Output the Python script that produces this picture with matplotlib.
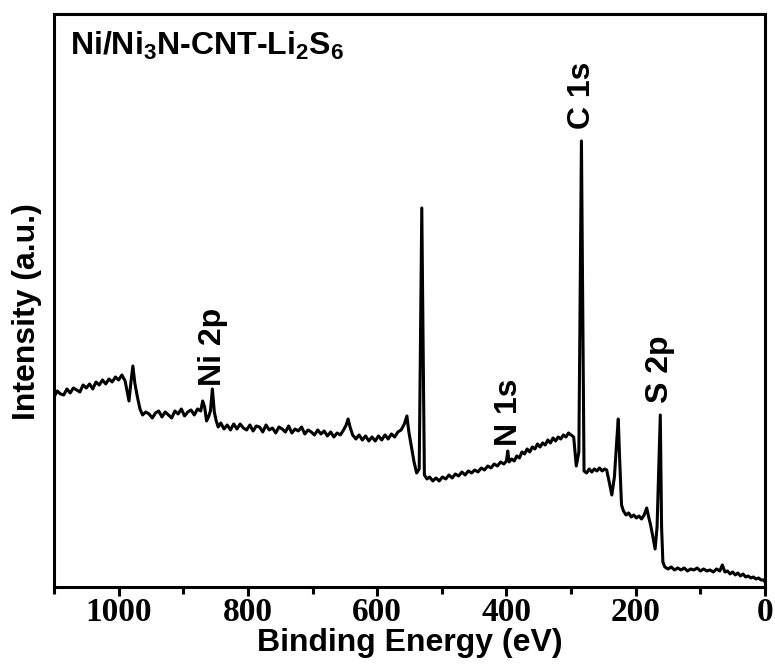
import matplotlib
matplotlib.use("Agg")
import matplotlib.pyplot as plt
from matplotlib.ticker import MultipleLocator

plt.rcParams['font.family'] = ['Liberation Sans', 'DejaVu Sans']
plt.rcParams['mathtext.fontset'] = 'custom'
plt.rcParams['mathtext.bf'] = 'Liberation Sans:bold'
plt.rcParams['mathtext.rm'] = 'Liberation Sans:bold'
plt.rcParams['mathtext.default'] = 'bf'

# survey spectrum (binding energy in eV, intensity in a.u.)
energy = [
    1100, 1095, 1090, 1085, 1080, 1075, 1070, 1065, 1060, 1055, 1050, 1045, 1040, 1035,
    1030, 1025, 1020, 1015, 1010, 1005, 1000, 995, 990, 987, 984, 981, 978, 975, 971,
    967, 963, 958, 953, 948, 943, 938, 933, 928, 923, 918, 913, 908, 903, 898, 893, 888,
    883, 878, 873, 870, 867, 864, 861, 858, 855, 852, 849, 846, 842, 837, 832, 827, 822,
    817, 812, 807, 802, 797, 792, 787, 782, 777, 772, 767, 762, 757, 752, 747, 742, 737,
    732, 727, 722, 717, 712, 707, 702, 697, 692, 687, 682, 677, 672, 667, 662, 657, 652,
    648, 645, 642, 638, 633, 628, 623, 618, 613, 608, 603, 598, 593, 588, 583, 578, 573,
    568, 563, 558, 554, 551, 547, 543, 539, 535, 531, 527, 523, 519, 514, 509, 504, 499,
    494, 489, 484, 479, 474, 469, 464, 459, 454, 449, 444, 439, 434, 429, 424, 419, 414,
    409, 404, 400, 398, 396, 392, 388, 384, 380, 376, 372, 368, 364, 360, 356, 352, 348,
    344, 340, 336, 332, 328, 324, 320, 316, 312, 308, 304, 300, 296, 292, 288, 284, 280,
    276, 272, 268, 264, 260, 256, 252, 248, 245, 241, 237, 233, 229, 227, 225, 222, 219,
    215, 211, 207, 203, 199, 195, 191, 187, 183, 180, 177, 174, 170, 167, 162, 160, 158,
    155, 150, 145, 140, 135, 130, 125, 120, 115, 110, 105, 100, 95, 90, 85, 80, 75, 70,
    66, 62, 58, 54, 50, 46, 42, 38, 34, 30, 26, 22, 18, 14, 10, 6, 2, 0,
]
intensity = [
    190, 196, 193, 192, 198, 194, 199, 197, 195, 202, 199, 203, 198, 205,
    202, 207, 203, 208, 205, 210, 207, 212, 206, 196, 186, 205, 221, 204, 190,
    178, 172, 175, 173, 169, 174, 176, 170, 175, 172, 169, 176, 173, 178, 171, 175, 177,
    172, 178, 176, 186, 180, 166, 170, 176, 198, 175, 166, 160, 164, 158, 162, 157, 163,
    158, 163, 159, 157, 162, 156, 161, 160, 155, 162, 157, 159, 154, 160, 158, 155, 161,
    154, 158, 156, 160, 153, 157, 155, 152, 157, 153, 156, 151, 155, 150, 154, 152, 157,
    162, 168, 160, 152, 148, 152, 147, 151, 146, 150, 146, 151, 147, 152, 148, 153, 150,
    155, 157, 163, 171, 155, 140, 125, 114, 118, 379, 112, 108, 110, 106, 109, 106, 110,
    108, 112, 109, 113, 111, 115, 112, 116, 114, 117, 115, 119, 117, 121, 119, 123, 121,
    125, 123, 126, 136, 125, 128, 126, 131, 129, 135, 133, 138, 135, 140, 138, 143, 140,
    144, 142, 147, 144, 149, 146, 150, 148, 152, 150, 154, 152, 150, 121, 135, 446, 116,
    114, 118, 115, 118, 116, 119, 116, 118, 117, 105, 92, 110, 150, 168, 130, 82, 76,
    72, 74, 70, 72, 69, 71, 68, 72, 79, 70, 62, 52, 38, 60, 172, 60, 25,
    20, 18, 20, 17, 19, 17, 19, 16, 18, 17, 19, 16, 18, 16, 17, 15, 18, 16,
    22, 15, 16, 13, 15, 12, 14, 11, 13, 10, 11, 9, 10, 8, 9, 7, 7, 5,
]

# peak labels: name, energy, height of label base
peak_names = ['Ni 2p', 'N 1s', 'C 1s', 'S 2p']
peak_energy = [854, 396, 283, 162]
peak_label_y = [201, 141, 458, 184]

sample = r'Ni/Ni$_3$N-CNT-Li$_2$S$_6$'

fig = plt.figure(figsize=(7.75, 6.69), dpi=100)
ax = fig.add_axes([0.0697, 0.1226, 0.9174, 0.8565])

ax.plot(energy, intensity, color='black', lw=2.2)

for name, e, y in zip(peak_names, peak_energy, peak_label_y):
    ax.text(e, y, name, rotation=90, ha='center', va='bottom',
            fontsize=23, fontweight='bold')

ax.text(0.022, 0.972, sample, transform=ax.transAxes, ha='left', va='top',
        fontsize=23, fontweight='bold')

ax.set_xlim(1100, 0)
ax.set_ylim(0, 573)
ax.xaxis.set_major_locator(MultipleLocator(200))
ax.xaxis.set_minor_locator(MultipleLocator(100))
ax.set_yticks([])

for s in ax.spines.values():
    s.set_linewidth(2.2)
ax.tick_params(axis='x', which='major', direction='out', length=6.5, width=2.2, pad=1)
ax.tick_params(axis='x', which='minor', direction='out', length=5, width=2.2)
for lab in ax.get_xticklabels():
    lab.set_fontfamily('Liberation Serif')
    lab.set_fontweight('bold')
    lab.set_fontsize(24)

ax.set_xlabel('Binding Energy (eV)', fontsize=23, fontweight='bold')
ax.xaxis.set_label_coords(0.5, -0.071)
ax.xaxis.label.set_va('top')
ax.set_ylabel('Intensity (a.u.)', fontsize=23, fontweight='bold')
ax.yaxis.set_label_coords(-0.017, 0.48)

fig.savefig('out.png', dpi=100)
